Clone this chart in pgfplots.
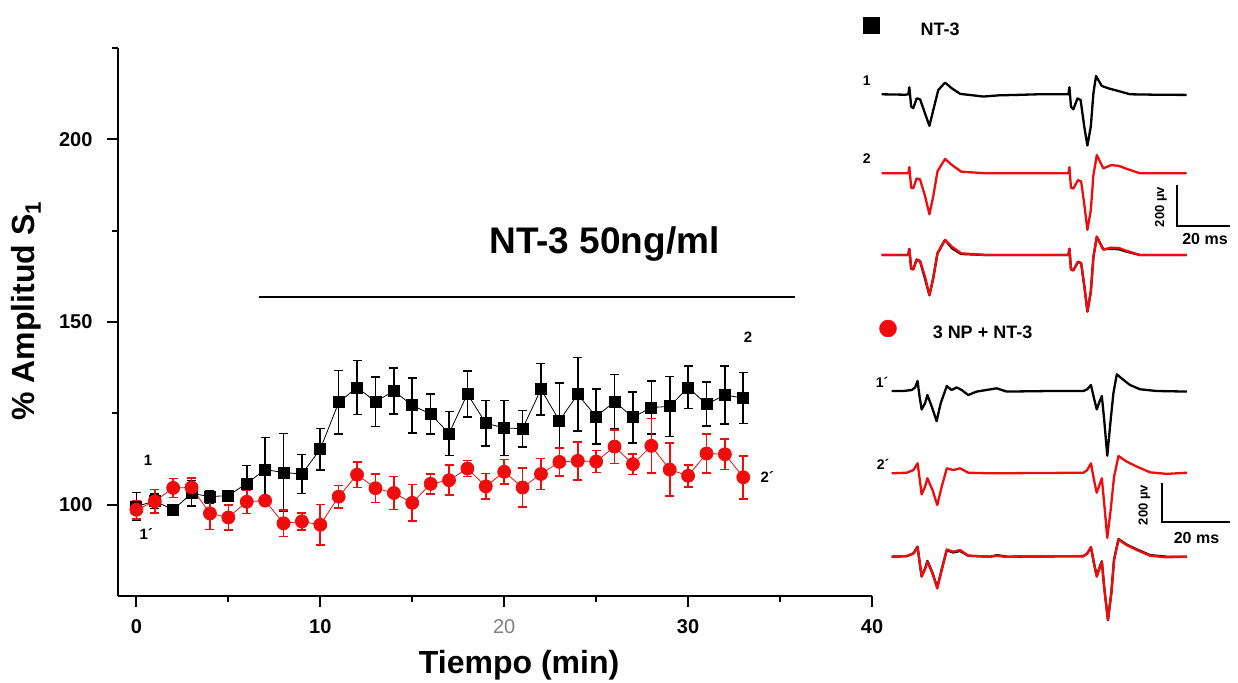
\documentclass[border=0pt]{standalone}
\usepackage{pgfplots}
\pgfplotsset{compat=1.18}
\usepackage{pgfplotstable}
\usepackage{fontspec}
\setmainfont{Liberation Sans}
\definecolor{myred}{RGB}{240,12,12}

\pgfplotstableread{
t y e
0 99.5 3.8
1 101 2
2 98.6 0
3 103.1 3.5
4 102.2 1.7
5 102.5 0
6 105.8 4.9
7 109.6 8.8
8 108.8 10.7
9 108.4 5.3
10 115.2 5.7
11 128 8.7
12 132.1 7.4
13 128.2 6.8
14 131.1 6.3
15 127.2 7.5
16 124.8 5.5
17 119.5 6
18 130.3 6.3
19 122.3 6.2
20 121 7.5
21 120.8 5
22 131.6 7
23 123 10.3
24 130.2 10.1
25 124.1 7.5
26 128.2 7.4
27 123.9 7
28 126.6 7.3
29 126.9 8.2
30 132.1 5.8
31 127.5 6
32 130 8
33 129.2 7
}\tblack

\pgfplotstableread{
t y e
0 98.6 2.5
1 100.9 3.2
2 104.6 2.6
3 104.7 2.6
4 97.6 4.4
5 96.5 3.4
6 100.8 3.2
7 101.1 0
8 94.9 3.6
9 95.4 2.3
10 94.5 5.6
11 102.2 3.1
12 108.2 3.5
13 104.5 3.9
14 103.2 4.5
15 100.5 5
16 105.7 2.7
17 106.7 4.1
18 109.9 2.2
19 105 3.5
20 109 3.4
21 104.7 5.3
22 108.4 4.2
23 111.7 3.8
24 112 5.2
25 111.8 3
26 115.9 4.6
27 111.1 2.8
28 116.1 7.5
29 109.6 7.3
30 107.9 3
31 114 5.4
32 113.8 4.2
33 107.5 5.9
}\tred

\pgfplotsset{tr/.style={hide axis, anchor=origin, clip=false},
  trk/.style={black, line width=2.3pt, line join=round},
  trr/.style={myred, line width=2.3pt, line join=round}}

\begin{document}
\begin{tikzpicture}
\path[use as bounding box] (0pt,0pt) rectangle (1238pt,-682pt);

% main chart
\begin{axis}[
 at={(118pt,-596pt)}, anchor=south west,
 scale only axis, width=754pt, height=548pt,
 xmin=-1, xmax=40, ymin=75, ymax=225,
 axis x line*=bottom, axis y line*=left,
 axis line style={line width=2.4pt},
 tick style={black, line width=2pt},
 tick align=outside,
 major tick length=11pt, minor tick length=6pt,
 xtick={0,10,20,30,40}, minor xtick={5,15,25,35},
 ytick={100,150,200}, minor ytick={125,175,225},
 xticklabels={0,10,{\mdseries\color{gray}20},30,40},
 yticklabels={100,150,200},
 tick label style={font=\bfseries\fontsize{20}{24}\selectfont},
 xticklabel style={yshift=-9pt},
 yticklabel style={xshift=-11pt},
 xlabel={Tiempo (min)},
 xlabel style={font=\bfseries\fontsize{32}{38}\selectfont, at={(axis description cs:0.532,-0.142)}, anchor=base},
 ylabel={\% Amplitud S\textsubscript{1}},
 ylabel style={font=\bfseries\fontsize{32}{38}\selectfont, at={(axis description cs:-0.1114,0.52)}, anchor=base},
 clip=false,
]
\addplot[black, line width=0.8pt, mark=square*, mark size=5.5pt,
  error bars/.cd, y dir=both, y explicit,
  error bar style={line width=1.6pt, black},
  error mark options={rotate=90, mark size=4.5pt, line width=1.6pt, black}]
  table[x=t, y=y, y error=e] {\tblack};
\addplot[myred, line width=0.8pt, mark=*, mark size=6.5pt,
  error bars/.cd, y dir=both, y explicit,
  error bar style={line width=1.6pt, myred},
  error mark options={rotate=90, mark size=4.5pt, line width=1.6pt, myred}]
  table[x=t, y=y, y error=e] {\tred};
\addplot[black, line width=2.4pt] coordinates {(6.67,156.8) (35.8,156.8)};
\node[font=\bfseries\fontsize{37}{44}\selectfont, anchor=base] at (axis cs:25.45,168.7) {NT-3 50ng/ml};
\node[font=\bfseries\fontsize{15}{18}\selectfont] at (axis cs:0.63,112.2) {1};
\node[font=\bfseries\fontsize{15}{18}\selectfont] at (axis cs:0.54,91.9) {1´};
\node[font=\bfseries\fontsize{15}{18}\selectfont] at (axis cs:33.26,145.9) {2};
\node[font=\bfseries\fontsize{15}{18}\selectfont] at (axis cs:34.3,107.7) {2´};
\end{axis}

% panel 1 traces (x: ms, y: microvolt)
\begin{axis}[tr, x=2.607pt, y=0.205pt, at={(881.7pt,-94.3pt)}]
\addplot[trk] coordinates {(0,0) (9,-2) (10.2,0) (10.6,34) (11.3,-60) (12.1,-68) (13.4,-20) (14.7,-24) (16.6,-93) (18.3,-154) (19.8,-76) (21.7,21) (24.3,57) (26.9,29) (30.1,2) (35,-5) (39,-11) (45,-5) (51.8,-3) (60,0) (70.3,0) (71.6,0) (72,34) (72.6,-60) (73.5,-73) (75.1,-20) (76.3,-28) (77.7,-158) (78.9,-250) (80.2,-158) (81.2,5) (82.2,89) (84.4,41) (87,29) (90.2,18) (95.3,0) (105,-2) (117,-3)};
\end{axis}
\begin{axis}[tr, x=2.607pt, y=0.205pt, at={(881.7pt,-173.3pt)}]
\addplot[trr] coordinates {(0,0) (9,0) (10.2,0) (10.6,30) (11.3,-70) (12.1,-73) (13.4,-25) (14.7,-30) (16.6,-110) (18.3,-200) (19.8,-110) (21.4,10) (24.3,70) (27,40) (30.5,8) (40,0) (70.3,0) (71.6,0) (72,30) (72.6,-70) (73.5,-75) (75.3,-33) (76.5,-40) (77.7,-150) (78.9,-276) (80.2,-180) (81.2,-10) (82.5,89) (85,24) (88,40) (91,36) (93.5,24) (99,0) (117,0)};
\end{axis}
\begin{axis}[tr, x=2.607pt, y=0.205pt, at={(881.7pt,-255pt)}]
\addplot[trk] coordinates {(0,0) (9,0) (10.2,0) (10.6,30) (11.3,-68) (12.1,-70) (13.4,-22) (14.7,-30) (16.6,-115) (18.3,-196) (19.8,-110) (21.4,8) (24.3,74) (27,32) (30.5,5) (40,0) (70.3,0) (71.6,0) (72,30) (72.6,-70) (73.5,-75) (75.3,-33) (76.5,-40) (77.7,-150) (78.9,-276) (80.2,-180) (81.2,-10) (82.5,89) (85,28) (88,30) (91,28) (93.5,18) (99,0) (117,0)};
\addplot[trr] coordinates {(0,0) (9,0) (10.2,0) (10.6,30) (11.3,-65) (12.1,-70) (13.4,-25) (14.7,-30) (16.6,-105) (18.3,-196) (19.8,-110) (21.4,10) (24.3,73) (27,40) (30.5,8) (40,0) (70.3,0) (71.6,0) (72,30) (72.6,-70) (73.5,-75) (75.3,-33) (76.5,-40) (77.7,-150) (78.9,-276) (80.2,-180) (81.2,-10) (82.5,89) (85,26) (88,36) (91,34) (93.5,22) (99,0) (117,0)};
\end{axis}

% panel 2 traces
\begin{axis}[tr, x=3.4pt, y=0.192pt, at={(891.7pt,-391pt)}]
\addplot[trk] coordinates {(0,0) (3.4,0) (5.9,5) (6.9,19) (7.6,52) (8.2,-30) (8.8,-96) (9.8,-64) (10.5,-21) (11.8,-82) (13.2,-157) (14.4,-64) (16.2,26) (17.6,5) (19.1,19) (20.6,5) (22.5,-21) (25,-3) (30.9,14) (33.8,-3) (46.6,0) (56.4,0) (57.5,9) (58.6,31) (59.5,-38) (60.3,-96) (61.1,-56) (61.8,-26) (62.5,-151) (63.4,-337) (64.4,-151) (65.2,-12) (66.2,87) (67.6,66) (70.1,31) (73,9) (77.9,0) (86.8,-3)};
\end{axis}
\begin{axis}[tr, x=3.4pt, y=0.192pt, at={(891.7pt,-473.3pt)}]
\addplot[trr] coordinates {(0,0) (4.4,3) (6.4,17) (7.6,52) (8.2,-26) (8.8,-110) (9.8,-70) (10.5,-26) (12,-87) (13.4,-165) (14.7,-70) (16.2,26) (18.1,17) (20.1,26) (22.5,3) (28.9,0) (56.4,3) (57.5,17) (58.6,52) (59.5,-35) (60.3,-101) (61.1,-61) (61.8,-26) (62.5,-157) (63.4,-336) (64.4,-191) (65.4,-17) (66.7,90) (69.1,61) (72.1,35) (76,5) (80.9,-3) (86.8,3)};
\end{axis}
\begin{axis}[tr, x=3.4pt, y=0.192pt, at={(891.7pt,-556.7pt)}]
\addplot[trk] coordinates {(0,0) (4.4,3) (6.4,17) (7.6,52) (8.2,-28) (8.8,-100) (9.8,-62) (10.5,-22) (12,-84) (13.4,-160) (14.7,-66) (16.2,34) (18.1,22) (20.1,30) (22.5,5) (28.9,0) (31,8) (34,0) (56.4,3) (57.5,17) (58.6,49) (59.5,-35) (60.3,-100) (61.1,-58) (61.8,-24) (62.5,-160) (63.6,-330) (64.6,-185) (65.4,-14) (66.7,92) (69.1,63) (72.1,38) (76,8) (80.9,0) (86.8,0)};
\addplot[trr] coordinates {(0,0) (4.4,3) (6.4,17) (7.6,52) (8.2,-26) (8.8,-104) (9.8,-65) (10.5,-26) (12,-87) (13.4,-165) (14.7,-70) (16.2,38) (18.1,26) (20.1,35) (22.5,5) (28.9,0) (31,5) (33,0) (56.4,3) (57.5,17) (58.6,49) (59.5,-35) (60.3,-104) (61.1,-61) (61.8,-26) (62.5,-160) (63.6,-330) (64.6,-191) (65.4,-17) (66.7,90) (69.1,61) (72.1,35) (76,5) (80.9,-3) (86.8,0)};
\end{axis}

% canvas: legend markers, scale bars and labels (pixel coordinates)
\begin{axis}[hide axis, x=1pt, y=1pt, anchor=origin, at={(0pt,0pt)}, clip=false,
  xmin=0, xmax=1238, ymin=-682, ymax=0]
\addplot[only marks, mark=square*, mark size=8pt, black] coordinates {(871.5,-25.5)};
\addplot[only marks, mark=*, mark size=8.5pt, myred] coordinates {(888,-328.5)};
\addplot[black, line width=2pt] coordinates {(1176.7,-185) (1176.7,-226) (1230,-226)};
\addplot[black, line width=2pt] coordinates {(1161.7,-483) (1161.7,-521.7) (1230,-521.7)};
\node[font=\bfseries\fontsize{18}{22}\selectfont] at (axis cs:940,-29) {NT-3};
\node[font=\bfseries\fontsize{18}{22}\selectfont] at (axis cs:982.5,-332.5) {3 NP + NT-3};
\node[font=\bfseries\fontsize{14}{17}\selectfont] at (axis cs:866.7,-81) {1};
\node[font=\bfseries\fontsize{14}{17}\selectfont] at (axis cs:866.7,-159) {2};
\node[font=\bfseries\fontsize{14}{17}\selectfont] at (axis cs:882,-382) {1´};
\node[font=\bfseries\fontsize{14}{17}\selectfont] at (axis cs:883,-464) {2´};
\node[font=\bfseries\fontsize{13}{16}\selectfont, rotate=90] at (axis cs:1161,-207) {200 µv};
\node[font=\bfseries\fontsize{16}{19}\selectfont] at (axis cs:1205,-239) {20 ms};
\node[font=\bfseries\fontsize{13}{16}\selectfont, rotate=90] at (axis cs:1144.5,-505) {200 µv};
\node[font=\bfseries\fontsize{16}{19}\selectfont] at (axis cs:1196.5,-538) {20 ms};
\end{axis}
\end{tikzpicture}
\end{document}
